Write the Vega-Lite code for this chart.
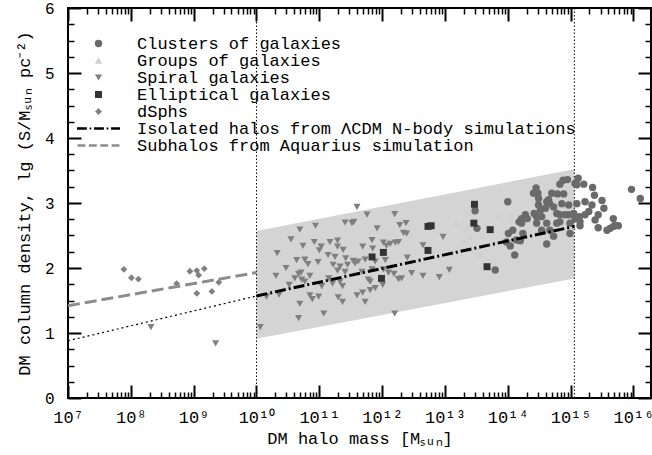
{
  "$schema": "https://vega.github.io/schema/vega-lite/v6.json",
  "width": 583,
  "height": 390,
  "autosize": {"type": "none"},
  "padding": {"left": 68, "top": 8, "right": 1, "bottom": 57},
  "background": "white",
  "config": {
    "font": "Liberation Mono",
    "view": {"stroke": "black", "strokeWidth": 2},
    "axis": {"grid": false, "labelFont": "Liberation Mono", "titleFont": "Liberation Mono", "titleFontWeight": "normal", "labelColor": "black", "titleColor": "black"}
  },
  "datasets": {
    "band": [{"logM": 10, "lower": 0.91, "upper": 2.57}, {"logM": 15.06, "lower": 1.84, "upper": 3.52}],
    "vlines": [{"logM": 10}, {"logM": 15.06}],
    "isolated": [{"logM": 10, "S": 1.57}, {"logM": 15.06, "S": 2.64}],
    "dotted": [{"logM": 7, "S": 0.88}, {"logM": 10, "S": 1.57}],
    "subhalos": [{"logM": 7, "S": 1.42}, {"logM": 10, "S": 1.93}],
    "points": [
      {"type": "Spiral galaxies", "logM": 8.32, "S": 1.09},
      {"type": "Spiral galaxies", "logM": 9.35, "S": 0.84},
      {"type": "Spiral galaxies", "logM": 10.06, "S": 1.09},
      {"type": "Spiral galaxies", "logM": 11.60, "S": 2.94},
      {"type": "Spiral galaxies", "logM": 11.76, "S": 2.82},
      {"type": "Spiral galaxies", "logM": 11.41, "S": 2.70},
      {"type": "Spiral galaxies", "logM": 11.52, "S": 2.69},
      {"type": "Spiral galaxies", "logM": 11.55, "S": 2.71},
      {"type": "Spiral galaxies", "logM": 10.94, "S": 2.65},
      {"type": "Spiral galaxies", "logM": 10.69, "S": 2.59},
      {"type": "Spiral galaxies", "logM": 10.55, "S": 2.44},
      {"type": "Spiral galaxies", "logM": 10.92, "S": 2.40},
      {"type": "Spiral galaxies", "logM": 10.74, "S": 2.34},
      {"type": "Spiral galaxies", "logM": 11.17, "S": 2.40},
      {"type": "Spiral galaxies", "logM": 11.29, "S": 2.42},
      {"type": "Spiral galaxies", "logM": 11.03, "S": 2.33},
      {"type": "Spiral galaxies", "logM": 11.00, "S": 2.27},
      {"type": "Spiral galaxies", "logM": 11.29, "S": 2.33},
      {"type": "Spiral galaxies", "logM": 11.38, "S": 2.28},
      {"type": "Spiral galaxies", "logM": 11.69, "S": 2.33},
      {"type": "Spiral galaxies", "logM": 10.33, "S": 2.23},
      {"type": "Spiral galaxies", "logM": 11.14, "S": 2.20},
      {"type": "Spiral galaxies", "logM": 11.25, "S": 2.17},
      {"type": "Spiral galaxies", "logM": 11.42, "S": 2.15},
      {"type": "Spiral galaxies", "logM": 11.54, "S": 2.11},
      {"type": "Spiral galaxies", "logM": 10.64, "S": 2.12},
      {"type": "Spiral galaxies", "logM": 10.77, "S": 2.13},
      {"type": "Spiral galaxies", "logM": 10.98, "S": 2.09},
      {"type": "Spiral galaxies", "logM": 11.62, "S": 2.10},
      {"type": "Spiral galaxies", "logM": 11.73, "S": 2.13},
      {"type": "Spiral galaxies", "logM": 10.47, "S": 2.00},
      {"type": "Spiral galaxies", "logM": 10.82, "S": 2.06},
      {"type": "Spiral galaxies", "logM": 11.22, "S": 2.05},
      {"type": "Spiral galaxies", "logM": 11.33, "S": 2.02},
      {"type": "Spiral galaxies", "logM": 11.45, "S": 2.05},
      {"type": "Spiral galaxies", "logM": 11.57, "S": 2.07},
      {"type": "Spiral galaxies", "logM": 10.71, "S": 1.93},
      {"type": "Spiral galaxies", "logM": 10.67, "S": 1.91},
      {"type": "Spiral galaxies", "logM": 11.29, "S": 1.96},
      {"type": "Spiral galaxies", "logM": 11.41, "S": 1.94},
      {"type": "Spiral galaxies", "logM": 11.68, "S": 1.94},
      {"type": "Spiral galaxies", "logM": 10.31, "S": 1.88},
      {"type": "Spiral galaxies", "logM": 10.61, "S": 1.84},
      {"type": "Spiral galaxies", "logM": 10.85, "S": 1.88},
      {"type": "Spiral galaxies", "logM": 11.15, "S": 1.84},
      {"type": "Spiral galaxies", "logM": 11.21, "S": 1.76},
      {"type": "Spiral galaxies", "logM": 11.33, "S": 1.79},
      {"type": "Spiral galaxies", "logM": 10.52, "S": 1.74},
      {"type": "Spiral galaxies", "logM": 10.72, "S": 1.82},
      {"type": "Spiral galaxies", "logM": 10.77, "S": 1.79},
      {"type": "Spiral galaxies", "logM": 11.04, "S": 1.72},
      {"type": "Spiral galaxies", "logM": 11.37, "S": 1.72},
      {"type": "Spiral galaxies", "logM": 11.78, "S": 1.82},
      {"type": "Spiral galaxies", "logM": 11.81, "S": 1.66},
      {"type": "Spiral galaxies", "logM": 10.16, "S": 1.56},
      {"type": "Spiral galaxies", "logM": 10.36, "S": 1.59},
      {"type": "Spiral galaxies", "logM": 10.85, "S": 1.58},
      {"type": "Spiral galaxies", "logM": 10.89, "S": 1.52},
      {"type": "Spiral galaxies", "logM": 10.99, "S": 1.56},
      {"type": "Spiral galaxies", "logM": 11.30, "S": 1.55},
      {"type": "Spiral galaxies", "logM": 11.37, "S": 1.48},
      {"type": "Spiral galaxies", "logM": 11.60, "S": 1.58},
      {"type": "Spiral galaxies", "logM": 11.69, "S": 1.62},
      {"type": "Spiral galaxies", "logM": 11.73, "S": 1.48},
      {"type": "Spiral galaxies", "logM": 10.69, "S": 1.45},
      {"type": "Spiral galaxies", "logM": 11.07, "S": 1.30},
      {"type": "Spiral galaxies", "logM": 10.67, "S": 1.23},
      {"type": "Spiral galaxies", "logM": 12.20, "S": 2.83},
      {"type": "Spiral galaxies", "logM": 12.28, "S": 2.66},
      {"type": "Spiral galaxies", "logM": 12.38, "S": 2.69},
      {"type": "Spiral galaxies", "logM": 12.34, "S": 2.54},
      {"type": "Spiral galaxies", "logM": 12.39, "S": 2.53},
      {"type": "Spiral galaxies", "logM": 11.92, "S": 2.61},
      {"type": "Spiral galaxies", "logM": 12.97, "S": 2.48},
      {"type": "Spiral galaxies", "logM": 12.65, "S": 2.35},
      {"type": "Spiral galaxies", "logM": 11.84, "S": 2.43},
      {"type": "Spiral galaxies", "logM": 12.02, "S": 2.39},
      {"type": "Spiral galaxies", "logM": 12.13, "S": 2.37},
      {"type": "Spiral galaxies", "logM": 12.21, "S": 2.39},
      {"type": "Spiral galaxies", "logM": 12.26, "S": 2.40},
      {"type": "Spiral galaxies", "logM": 12.07, "S": 2.34},
      {"type": "Spiral galaxies", "logM": 11.85, "S": 2.30},
      {"type": "Spiral galaxies", "logM": 12.40, "S": 2.16},
      {"type": "Spiral galaxies", "logM": 11.89, "S": 2.10},
      {"type": "Spiral galaxies", "logM": 12.05, "S": 2.12},
      {"type": "Spiral galaxies", "logM": 11.84, "S": 1.98},
      {"type": "Spiral galaxies", "logM": 12.02, "S": 1.98},
      {"type": "Spiral galaxies", "logM": 12.10, "S": 1.93},
      {"type": "Spiral galaxies", "logM": 12.19, "S": 1.91},
      {"type": "Spiral galaxies", "logM": 12.31, "S": 1.84},
      {"type": "Spiral galaxies", "logM": 12.47, "S": 1.92},
      {"type": "Spiral galaxies", "logM": 12.65, "S": 1.88},
      {"type": "Spiral galaxies", "logM": 12.91, "S": 1.86},
      {"type": "Spiral galaxies", "logM": 13.07, "S": 1.97},
      {"type": "Spiral galaxies", "logM": 11.81, "S": 1.79},
      {"type": "Spiral galaxies", "logM": 11.89, "S": 1.69},
      {"type": "Spiral galaxies", "logM": 12.01, "S": 1.74},
      {"type": "Spiral galaxies", "logM": 12.20, "S": 1.30},
      {"type": "Spiral galaxies", "logM": 12.26, "S": 1.83},
      {"type": "Groups of galaxies", "logM": 13.42, "S": 2.85},
      {"type": "Groups of galaxies", "logM": 13.30, "S": 2.40},
      {"type": "Groups of galaxies", "logM": 13.40, "S": 2.49},
      {"type": "Groups of galaxies", "logM": 13.56, "S": 2.20},
      {"type": "Groups of galaxies", "logM": 13.86, "S": 2.79},
      {"type": "Groups of galaxies", "logM": 14.04, "S": 2.79},
      {"type": "Groups of galaxies", "logM": 13.96, "S": 2.56},
      {"type": "Groups of galaxies", "logM": 13.18, "S": 2.69},
      {"type": "Groups of galaxies", "logM": 13.35, "S": 2.62},
      {"type": "dSphs", "logM": 7.89, "S": 1.98},
      {"type": "dSphs", "logM": 8.01, "S": 1.85},
      {"type": "dSphs", "logM": 8.12, "S": 1.83},
      {"type": "dSphs", "logM": 8.73, "S": 1.76},
      {"type": "dSphs", "logM": 8.94, "S": 1.95},
      {"type": "dSphs", "logM": 9.05, "S": 1.96},
      {"type": "dSphs", "logM": 9.17, "S": 1.99},
      {"type": "dSphs", "logM": 9.08, "S": 1.89},
      {"type": "dSphs", "logM": 9.05, "S": 1.61},
      {"type": "dSphs", "logM": 9.29, "S": 1.64},
      {"type": "dSphs", "logM": 9.40, "S": 1.78},
      {"type": "Clusters of galaxies", "logM": 13.48, "S": 2.88},
      {"type": "Clusters of galaxies", "logM": 13.51, "S": 2.61},
      {"type": "Clusters of galaxies", "logM": 13.80, "S": 1.97},
      {"type": "Clusters of galaxies", "logM": 14.00, "S": 3.02},
      {"type": "Clusters of galaxies", "logM": 13.98, "S": 2.40},
      {"type": "Clusters of galaxies", "logM": 14.01, "S": 2.53},
      {"type": "Clusters of galaxies", "logM": 14.04, "S": 2.34},
      {"type": "Clusters of galaxies", "logM": 14.08, "S": 2.58},
      {"type": "Clusters of galaxies", "logM": 14.11, "S": 2.20},
      {"type": "Clusters of galaxies", "logM": 14.14, "S": 2.43},
      {"type": "Clusters of galaxies", "logM": 14.18, "S": 2.71},
      {"type": "Clusters of galaxies", "logM": 14.20, "S": 2.42},
      {"type": "Clusters of galaxies", "logM": 14.22, "S": 2.76},
      {"type": "Clusters of galaxies", "logM": 14.22, "S": 2.69},
      {"type": "Clusters of galaxies", "logM": 14.24, "S": 2.53},
      {"type": "Clusters of galaxies", "logM": 14.28, "S": 2.82},
      {"type": "Clusters of galaxies", "logM": 14.31, "S": 2.76},
      {"type": "Clusters of galaxies", "logM": 14.41, "S": 3.15},
      {"type": "Clusters of galaxies", "logM": 14.42, "S": 2.84},
      {"type": "Clusters of galaxies", "logM": 14.45, "S": 3.23},
      {"type": "Clusters of galaxies", "logM": 14.46, "S": 2.69},
      {"type": "Clusters of galaxies", "logM": 14.46, "S": 2.79},
      {"type": "Clusters of galaxies", "logM": 14.48, "S": 3.15},
      {"type": "Clusters of galaxies", "logM": 14.49, "S": 3.07},
      {"type": "Clusters of galaxies", "logM": 14.49, "S": 2.97},
      {"type": "Clusters of galaxies", "logM": 14.52, "S": 2.89},
      {"type": "Clusters of galaxies", "logM": 14.54, "S": 2.79},
      {"type": "Clusters of galaxies", "logM": 14.54, "S": 2.58},
      {"type": "Clusters of galaxies", "logM": 14.60, "S": 2.92},
      {"type": "Clusters of galaxies", "logM": 14.62, "S": 3.02},
      {"type": "Clusters of galaxies", "logM": 14.62, "S": 2.69},
      {"type": "Clusters of galaxies", "logM": 14.62, "S": 2.37},
      {"type": "Clusters of galaxies", "logM": 14.65, "S": 3.05},
      {"type": "Clusters of galaxies", "logM": 14.67, "S": 2.99},
      {"type": "Clusters of galaxies", "logM": 14.67, "S": 2.58},
      {"type": "Clusters of galaxies", "logM": 14.70, "S": 3.15},
      {"type": "Clusters of galaxies", "logM": 14.73, "S": 2.94},
      {"type": "Clusters of galaxies", "logM": 14.73, "S": 2.49},
      {"type": "Clusters of galaxies", "logM": 14.78, "S": 2.84},
      {"type": "Clusters of galaxies", "logM": 14.78, "S": 2.69},
      {"type": "Clusters of galaxies", "logM": 14.79, "S": 3.14},
      {"type": "Clusters of galaxies", "logM": 14.83, "S": 3.29},
      {"type": "Clusters of galaxies", "logM": 14.83, "S": 2.82},
      {"type": "Clusters of galaxies", "logM": 14.83, "S": 2.71},
      {"type": "Clusters of galaxies", "logM": 14.86, "S": 2.99},
      {"type": "Clusters of galaxies", "logM": 14.88, "S": 3.35},
      {"type": "Clusters of galaxies", "logM": 14.89, "S": 3.14},
      {"type": "Clusters of galaxies", "logM": 14.91, "S": 2.82},
      {"type": "Clusters of galaxies", "logM": 14.95, "S": 3.36},
      {"type": "Clusters of galaxies", "logM": 14.97, "S": 2.97},
      {"type": "Clusters of galaxies", "logM": 14.97, "S": 2.82},
      {"type": "Clusters of galaxies", "logM": 14.99, "S": 2.69},
      {"type": "Clusters of galaxies", "logM": 14.99, "S": 2.53},
      {"type": "Clusters of galaxies", "logM": 15.05, "S": 2.84},
      {"type": "Clusters of galaxies", "logM": 15.07, "S": 3.30},
      {"type": "Clusters of galaxies", "logM": 15.07, "S": 2.76},
      {"type": "Clusters of galaxies", "logM": 15.10, "S": 2.99},
      {"type": "Clusters of galaxies", "logM": 15.10, "S": 3.28},
      {"type": "Clusters of galaxies", "logM": 15.12, "S": 3.38},
      {"type": "Clusters of galaxies", "logM": 15.14, "S": 2.79},
      {"type": "Clusters of galaxies", "logM": 15.15, "S": 2.71},
      {"type": "Clusters of galaxies", "logM": 15.15, "S": 2.65},
      {"type": "Clusters of galaxies", "logM": 15.21, "S": 3.29},
      {"type": "Clusters of galaxies", "logM": 15.23, "S": 3.02},
      {"type": "Clusters of galaxies", "logM": 15.23, "S": 2.82},
      {"type": "Clusters of galaxies", "logM": 15.29, "S": 2.87},
      {"type": "Clusters of galaxies", "logM": 15.34, "S": 2.97},
      {"type": "Clusters of galaxies", "logM": 15.35, "S": 3.24},
      {"type": "Clusters of galaxies", "logM": 15.38, "S": 3.12},
      {"type": "Clusters of galaxies", "logM": 15.39, "S": 2.74},
      {"type": "Clusters of galaxies", "logM": 15.44, "S": 2.82},
      {"type": "Clusters of galaxies", "logM": 15.44, "S": 2.62},
      {"type": "Clusters of galaxies", "logM": 15.50, "S": 3.04},
      {"type": "Clusters of galaxies", "logM": 15.53, "S": 2.92},
      {"type": "Clusters of galaxies", "logM": 15.58, "S": 2.58},
      {"type": "Clusters of galaxies", "logM": 15.63, "S": 2.61},
      {"type": "Clusters of galaxies", "logM": 15.68, "S": 2.76},
      {"type": "Clusters of galaxies", "logM": 15.68, "S": 2.64},
      {"type": "Clusters of galaxies", "logM": 15.71, "S": 2.66},
      {"type": "Clusters of galaxies", "logM": 15.76, "S": 2.65},
      {"type": "Clusters of galaxies", "logM": 15.97, "S": 3.21},
      {"type": "Clusters of galaxies", "logM": 16.11, "S": 3.07},
      {"type": "Elliptical galaxies", "logM": 11.84, "S": 2.17},
      {"type": "Elliptical galaxies", "logM": 12.02, "S": 2.24},
      {"type": "Elliptical galaxies", "logM": 11.99, "S": 1.84},
      {"type": "Elliptical galaxies", "logM": 12.73, "S": 2.27},
      {"type": "Elliptical galaxies", "logM": 12.73, "S": 2.64},
      {"type": "Elliptical galaxies", "logM": 12.78, "S": 2.65},
      {"type": "Elliptical galaxies", "logM": 13.47, "S": 2.98},
      {"type": "Elliptical galaxies", "logM": 13.46, "S": 2.69},
      {"type": "Elliptical galaxies", "logM": 13.72, "S": 2.59},
      {"type": "Elliptical galaxies", "logM": 13.67, "S": 2.02}
    ]
  },
  "layer": [
    {
      "data": {"name": "band"},
      "mark": {"type": "area", "color": "#d4d4d4"},
      "encoding": {
        "x": {"field": "logM", "type": "quantitative", "scale": {"domain": [7, 16.28], "nice": false, "zero": false},
          "axis": {"orient": "bottom", "ticks": true, "domain": false, "tickColor": "black", "tickSize": -13, "tickWidth": 2, "tickOpacity": 1,
            "values": [7, 8, 9, 10, 11, 12, 13, 14, 15, 16],
            "labelExpr": "'10' + ['⁷','⁸','⁹','¹⁰','¹¹','¹²','¹³','¹⁴','¹⁵','¹⁶'][round(datum.value) - 7]",
            "labelFontSize": 17, "labelPadding": 24, "labelFlush": false, "labelOverlap": false, "labelBound": false,
            "title": "DM halo mass [Mₛᵤₙ]", "titleFontSize": 17, "titleY": 45, "titleBaseline": "alphabetic"}},
        "y": {"field": "upper", "type": "quantitative", "scale": {"domain": [0, 6], "nice": false, "zero": false},
          "axis": {"orient": "left", "ticks": true, "domain": false, "tickColor": "black", "tickSize": -13, "tickWidth": 2, "tickOpacity": 1,
            "values": [0, 1, 2, 3, 4, 5, 6], "format": "d",
            "labelFontSize": 16, "labelPadding": 27, "labelFlush": false, "labelOverlap": false,
            "title": "DM column density, lg (S/Mₛᵤₙ pc⁻²)", "titleFontSize": 17, "titleX": -39, "titleBaseline": "alphabetic"}},
        "y2": {"field": "lower"}
      }
    },
    {
      "data": {"name": "vlines"},
      "mark": {"type": "rule", "color": "black", "strokeWidth": 1, "strokeDash": [1.5, 2]},
      "encoding": {
        "x": {"field": "logM", "type": "quantitative", "scale": {"domain": [7, 16.28], "nice": false, "zero": false}, "axis": null}
      }
    },
    {
      "data": {"name": "points"},
      "mark": {"type": "point", "filled": true, "opacity": 1},
      "encoding": {
        "x": {"field": "logM", "type": "quantitative", "scale": {"domain": [7, 16.28], "nice": false, "zero": false},
          "axis": {"orient": "top", "ticks": true, "labels": false, "domain": false, "title": null, "tickColor": "black", "tickSize": -13, "tickWidth": 2, "tickOpacity": 1,
            "values": [7, 8, 9, 10, 11, 12, 13, 14, 15, 16]}},
        "y": {"field": "S", "type": "quantitative", "scale": {"domain": [0, 6], "nice": false, "zero": false},
          "axis": {"orient": "right", "ticks": true, "labels": false, "domain": false, "title": null, "tickColor": "black", "tickSize": -13, "tickWidth": 2, "tickOpacity": 1,
            "values": [0, 1, 2, 3, 4, 5, 6]}},
        "color": {"field": "type", "type": "nominal",
          "scale": {"domain": ["Clusters of galaxies", "Groups of galaxies", "Spiral galaxies", "Elliptical galaxies", "dSphs", "Isolated halos from ΛCDM N-body simulations", "Subhalos from Aquarius simulation"],
            "range": ["#6a6a6a", "#d0d0d0", "#7f7f7f", "#333333", "#808080", "#000000", "#8c8c8c"]},
          "legend": {"orient": "none", "legendX": 22, "legendY": 27, "title": null, "labelFont": "Liberation Mono", "labelFontSize": 17, "labelColor": "black", "labelLimit": 1000, "symbolSize": 55, "labelOffset": 30, "rowPadding": -1, "padding": 0, "symbolStrokeWidth": 0, "symbolOpacity": 1}},
        "shape": {"field": "type", "type": "nominal",
          "scale": {"domain": ["Clusters of galaxies", "Groups of galaxies", "Spiral galaxies", "Elliptical galaxies", "dSphs", "Isolated halos from ΛCDM N-body simulations", "Subhalos from Aquarius simulation"],
            "range": ["circle", "triangle-up", "triangle-down", "square", "diamond",
              "M-6.47,-0.4H-3.51V0.4H-6.47ZM-2.7,-0.3H-2.16V0.3H-2.7ZM-1.35,-0.4H1.62V0.4H-1.35ZM2.43,-0.3H2.97V0.3H2.43ZM3.78,-0.4H6.47V0.4H3.78Z",
              "M-6.47,-0.4H-4.05V0.4H-6.47ZM-2.97,-0.4H-0.54V0.4H-2.97ZM0.54,-0.4H2.97V0.4H0.54ZM4.05,-0.4H6.47V0.4H4.05Z"]}},
        "size": {"field": "type", "type": "nominal", "legend": null,
          "scale": {"domain": ["Clusters of galaxies", "Groups of galaxies", "Spiral galaxies", "Elliptical galaxies", "dSphs", "Isolated halos from ΛCDM N-body simulations", "Subhalos from Aquarius simulation"],
            "range": [55, 42, 42, 48, 40, 40, 40]}}
      }
    },
    {
      "data": {"name": "dotted"},
      "mark": {"type": "line", "color": "black", "strokeWidth": 1.2, "strokeDash": [2, 3]},
      "encoding": {
        "x": {"field": "logM", "type": "quantitative", "scale": {"domain": [7, 16.28], "nice": false, "zero": false},
          "axis": {"orient": "top", "ticks": true, "labels": false, "domain": false, "title": null, "tickColor": "black", "tickSize": -6, "tickWidth": 1.5, "tickOpacity": 1,
            "values": [7.30103, 7.47712, 7.60206, 7.69897, 7.77815, 7.8451, 7.90309, 7.95424, 8.30103, 8.47712, 8.60206, 8.69897, 8.77815, 8.8451, 8.90309, 8.95424, 9.30103, 9.47712, 9.60206, 9.69897, 9.77815, 9.8451, 9.90309, 9.95424, 10.30103, 10.47712, 10.60206, 10.69897, 10.77815, 10.8451, 10.90309, 10.95424, 11.30103, 11.47712, 11.60206, 11.69897, 11.77815, 11.8451, 11.90309, 11.95424, 12.30103, 12.47712, 12.60206, 12.69897, 12.77815, 12.8451, 12.90309, 12.95424, 13.30103, 13.47712, 13.60206, 13.69897, 13.77815, 13.8451, 13.90309, 13.95424, 14.30103, 14.47712, 14.60206, 14.69897, 14.77815, 14.8451, 14.90309, 14.95424, 15.30103, 15.47712, 15.60206, 15.69897, 15.77815, 15.8451, 15.90309, 15.95424]}},
        "y": {"field": "S", "type": "quantitative", "scale": {"domain": [0, 6], "nice": false, "zero": false},
          "axis": {"orient": "right", "ticks": true, "labels": false, "domain": false, "title": null, "tickColor": "black", "tickSize": -6, "tickWidth": 1.5, "tickOpacity": 1,
            "values": [0.25, 0.5, 0.75, 1.25, 1.5, 1.75, 2.25, 2.5, 2.75, 3.25, 3.5, 3.75, 4.25, 4.5, 4.75, 5.25, 5.5, 5.75]}}
      }
    },
    {
      "data": {"name": "subhalos"},
      "mark": {"type": "line", "color": "#8c8c8c", "strokeWidth": 3, "strokeDash": [12, 5]},
      "encoding": {
        "x": {"field": "logM", "type": "quantitative", "scale": {"domain": [7, 16.28], "nice": false, "zero": false},
          "axis": {"orient": "bottom", "ticks": true, "labels": false, "domain": false, "title": null, "tickColor": "black", "tickSize": -6, "tickWidth": 1.5, "tickOpacity": 1,
            "values": [7.30103, 7.47712, 7.60206, 7.69897, 7.77815, 7.8451, 7.90309, 7.95424, 8.30103, 8.47712, 8.60206, 8.69897, 8.77815, 8.8451, 8.90309, 8.95424, 9.30103, 9.47712, 9.60206, 9.69897, 9.77815, 9.8451, 9.90309, 9.95424, 10.30103, 10.47712, 10.60206, 10.69897, 10.77815, 10.8451, 10.90309, 10.95424, 11.30103, 11.47712, 11.60206, 11.69897, 11.77815, 11.8451, 11.90309, 11.95424, 12.30103, 12.47712, 12.60206, 12.69897, 12.77815, 12.8451, 12.90309, 12.95424, 13.30103, 13.47712, 13.60206, 13.69897, 13.77815, 13.8451, 13.90309, 13.95424, 14.30103, 14.47712, 14.60206, 14.69897, 14.77815, 14.8451, 14.90309, 14.95424, 15.30103, 15.47712, 15.60206, 15.69897, 15.77815, 15.8451, 15.90309, 15.95424]}},
        "y": {"field": "S", "type": "quantitative", "scale": {"domain": [0, 6], "nice": false, "zero": false},
          "axis": {"orient": "left", "ticks": true, "labels": false, "domain": false, "title": null, "tickColor": "black", "tickSize": -6, "tickWidth": 1.5, "tickOpacity": 1,
            "values": [0.25, 0.5, 0.75, 1.25, 1.5, 1.75, 2.25, 2.5, 2.75, 3.25, 3.5, 3.75, 4.25, 4.5, 4.75, 5.25, 5.5, 5.75]}}
      }
    },
    {
      "data": {"name": "isolated"},
      "mark": {"type": "line", "color": "black", "strokeWidth": 3, "strokeDash": [11, 3, 2, 3]},
      "encoding": {
        "x": {"field": "logM", "type": "quantitative", "scale": {"domain": [7, 16.28], "nice": false, "zero": false}, "axis": null},
        "y": {"field": "S", "type": "quantitative", "scale": {"domain": [0, 6], "nice": false, "zero": false}, "axis": null}
      }
    }
  ],
  "resolve": {"axis": {"x": "independent", "y": "independent"}}
}
